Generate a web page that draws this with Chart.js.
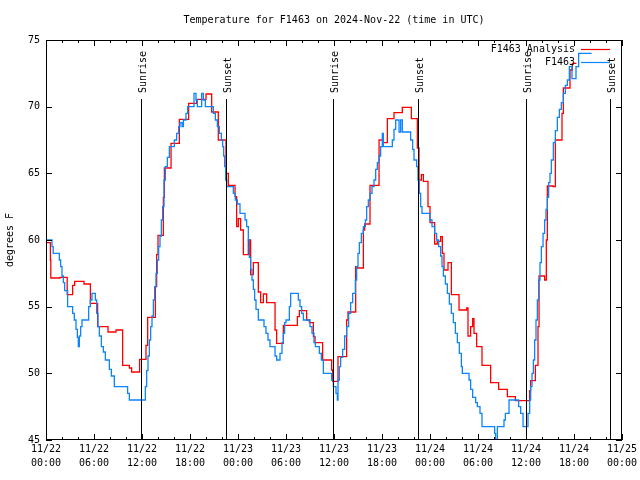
<!DOCTYPE html>
<html>
<head>
<meta charset="utf-8">
<script src="https://cdn.jsdelivr.net/npm/chart.js@4/dist/chart.umd.min.js"></script>
<style>
  html, body { margin: 0; padding: 0; background: #ffffff; }
  canvas { display: block; }
</style>
</head>
<body>
<canvas id="c" width="640" height="480"></canvas>
<script>
// ---- data (hours since 2024-11-22 00:00 UTC) ----
const chartTitle = 'Temperature for F1463 on 2024-Nov-22 (time in UTC)';
const yTitle = 'degrees F';
const seriesNames = ['F1463 Analysis', 'F1463'];

const analysisHours = [0.0,0.55,0.6,1.75,2.65,3.33,3.58,4.75,5.55,6.45,7.75,8.75,9.58,10.42,10.7,11.7,12.5,12.71,13.67,13.83,14.0,14.67,14.8,15.63,16.67,17.83,18.83,20.0,20.71,21.54,22.5,22.79,23.63,23.83,24.04,24.33,24.67,25.29,25.58,25.92,26.54,26.83,27.17,27.58,28.63,28.83,29.67,31.42,31.67,32.58,32.92,33.42,33.63,34.58,35.71,35.83,36.5,37.58,37.75,38.71,38.92,39.67,39.83,40.5,41.63,42.17,42.67,43.5,44.54,45.67,46.42,46.63,46.92,47.17,47.75,48.0,48.58,48.92,49.33,49.54,49.75,50.25,50.67,51.63,52.58,52.75,53.08,53.33,53.5,53.83,54.5,55.58,56.58,57.67,58.67,60.46,60.58,61.17,61.5,61.63,62.33,62.54,62.67,63.38,63.67,64.5,64.67,65.5,65.8,66.3];
const analysisTemps = [59.8,58.5,57.15,57.2,55.9,56.6,56.9,56.7,55.25,53.5,53.1,53.25,50.6,50.4,50.1,51.05,52.1,54.2,56.5,58.9,60.35,63.2,65.4,67.25,69.05,70.25,70.55,70.95,69.6,67.5,65.0,64.1,63.25,61.0,61.6,60.75,58.9,60.0,57.4,58.3,56.1,55.3,55.95,55.3,53.25,52.25,53.6,54.25,54.7,54.0,53.8,52.75,52.3,51.0,50.25,49.4,51.25,54.0,54.6,58.0,57.9,60.75,61.2,64.1,67.5,67.3,69.1,69.55,69.95,69.1,66.9,64.5,64.9,64.4,62.5,61.3,59.7,59.9,60.25,59.0,57.75,58.3,55.9,54.75,54.9,52.8,53.5,54.1,53.0,52.0,50.6,49.3,48.8,48.25,47.95,48.7,49.45,50.6,53.5,57.3,57.0,60.0,64.05,64.0,67.5,69.5,71.4,72.75,73.25,73.25];

const obsHours = [0.0,0.75,0.9,1.67,1.83,2.0,2.17,2.33,2.7,3.33,3.54,3.75,3.92,4.04,4.17,4.33,4.5,5.33,5.54,5.75,6.17,6.33,6.5,6.67,6.92,7.17,7.42,7.92,8.17,8.54,10.2,10.42,12.42,12.58,12.75,12.92,13.08,13.25,13.42,13.58,13.75,13.92,14.08,14.25,14.42,14.58,14.75,14.92,15.17,15.42,16.04,16.33,16.58,16.75,17.0,17.17,17.5,17.71,
18.5,18.75,18.92,19.46,19.67,19.92,20.92,21.17,21.42,21.67,21.92,22.08,22.21,22.33,22.46,22.58,23.42,23.67,23.92,24.25,24.88,25.08,25.29,25.42,25.58,25.75,25.92,26.08,26.25,26.54,27.25,27.5,27.75,28.0,28.63,28.83,29.25,29.5,29.67,29.83,30.0,30.42,30.58,31.54,31.75,31.96,32.17,33.0,33.25,33.5,33.67,34.17,34.42,34.67,35.71,35.92,
36.25,36.42,36.5,36.67,36.83,37.08,37.33,37.58,37.83,38.08,38.33,38.67,38.83,39.0,39.17,39.42,39.67,39.92,40.08,40.29,40.5,40.75,41.0,41.21,41.42,41.63,41.83,42.04,42.17,43.29,43.5,43.71,44.13,44.33,44.54,45.58,45.83,46.0,46.33,46.5,46.67,46.83,47.0,48.0,48.25,48.58,48.83,49.08,49.33,49.5,49.67,49.92,50.17,50.42,50.67,50.92,51.17,51.42,51.67,51.92,52.04,52.88,53.08,53.33,53.71,53.92,
54.25,54.5,56.08,56.2,56.42,57.25,57.42,57.88,59.08,59.33,59.63,60.25,60.46,60.58,60.75,60.92,61.08,61.25,61.42,61.58,61.75,61.92,62.13,62.33,62.5,62.67,62.83,63.0,63.17,63.42,63.67,63.92,64.17,64.42,64.67,64.92,65.17,65.42,65.75,66.25,66.58,68.2];
const obsTemps = [60.0,59.5,59.0,58.5,58.0,57.3,56.8,56.2,55.0,54.5,54.0,53.3,52.7,52.0,52.8,53.5,54.0,55.0,55.5,56.0,55.5,54.5,53.5,52.8,52.0,51.6,51.0,50.3,49.8,49.0,48.5,48.0,49.0,50.2,51.3,52.5,53.5,54.3,55.5,56.5,57.5,58.5,59.5,60.3,61.5,62.5,64.5,65.5,66.2,67.0,67.5,68.0,68.5,68.8,68.5,69.0,69.5,70.0,
71.0,70.5,70.0,71.0,70.5,70.0,69.5,69.0,68.5,68.0,67.5,67.0,66.3,65.5,64.5,64.0,63.5,63.0,62.7,62.0,61.5,61.0,60.0,58.7,57.8,57.0,56.3,55.5,54.8,54.0,53.5,53.0,52.5,52.0,51.3,51.0,51.5,52.3,53.0,53.8,54.0,55.0,56.0,55.5,55.0,54.5,54.0,53.5,53.0,52.3,52.0,51.5,51.0,50.0,49.5,49.0,
48.5,48.0,49.5,50.5,51.2,51.8,52.8,53.5,54.5,55.3,56.0,57.0,58.0,59.0,59.8,60.5,61.0,61.5,62.5,63.0,63.5,64.0,64.5,65.3,65.8,66.3,67.0,68.0,67.0,67.5,68.3,69.0,68.1,69.0,68.1,67.5,66.8,66.0,65.5,64.5,63.5,62.5,62.0,61.5,61.0,60.5,60.0,59.5,58.8,58.0,57.3,56.7,56.0,55.2,54.5,53.8,53.0,52.3,51.5,50.5,50.0,49.5,48.8,48.2,47.8,47.5,
47.0,46.0,45.5,45.0,46.0,46.5,47.0,48.0,47.5,47.0,46.0,47.0,48.0,49.0,50.0,51.0,52.5,54.0,55.5,57.0,58.3,59.5,60.5,61.5,62.3,63.2,64.3,65.0,66.0,67.3,68.2,69.2,69.8,70.3,71.0,71.6,72.0,73.0,72.1,73.0,74.0,74.0];

const sunriseHours = [11.92, 35.93, 59.95];
const sunsetHours = [22.48, 46.45, 70.45];

const xTickHours = [0,6,12,18,24,30,36,42,48,54,60,66,72];
const xTickDates = ['11/22','11/22','11/22','11/22','11/23','11/23','11/23','11/23','11/24','11/24','11/24','11/24','11/25'];
const xTickTimes = ['00:00','06:00','12:00','18:00','00:00','06:00','12:00','18:00','00:00','06:00','12:00','18:00','00:00'];
const yTicks = [45,50,55,60,65,70,75];

// ---- chart ----
const FONT = '"DejaVu Sans Mono", "Liberation Mono", monospace';
const RED = '#ff0000';
const BLUE = '#0a84ff';

const toPts = (hs, vs) => hs.map((h, i) => ({x: h, y: vs[i]}));

const gnuplotPlugin = {
  id: 'gnuplotDecor',
  afterDatasetsDraw(chart) {
    const ctx = chart.ctx;
    const xs = chart.scales.x, ys = chart.scales.y;
    const a = chart.chartArea;
    ctx.save();
    ctx.strokeStyle = '#000';
    ctx.fillStyle = '#000';
    ctx.lineWidth = 1;

    // sunrise / sunset lines and labels
    ctx.font = '10px ' + FONT;
    const drawSun = (h, txt) => {
      const px = Math.round(xs.getPixelForValue(h)) + 0.5;
      ctx.beginPath();
      ctx.moveTo(px, a.top + 59);
      ctx.lineTo(px, a.bottom);
      ctx.stroke();
      ctx.save();
      ctx.translate(px + 1.5, a.top + 53);
      ctx.rotate(-Math.PI / 2);
      ctx.textAlign = 'left';
      ctx.textBaseline = 'middle';
      ctx.fillText(txt, 0, 0);
      ctx.restore();
    };
    sunriseHours.forEach(h => drawSun(h, 'Sunrise'));
    sunsetHours.forEach(h => drawSun(h, 'Sunset'));

    // border
    ctx.strokeRect(a.left + 0.5, a.top + 0.5, a.right - a.left - 1, a.bottom - a.top - 1);

    // y ticks (inward, mirrored)
    ctx.beginPath();
    yTicks.forEach(v => {
      const py = Math.round(ys.getPixelForValue(v)) + 0.5;
      ctx.moveTo(a.left, py); ctx.lineTo(a.left + 6, py);
      ctx.moveTo(a.right, py); ctx.lineTo(a.right - 6, py);
    });
    // x ticks: major every 6 h, minor every 2 h
    for (let h = 0; h <= 72; h += 2) {
      const px = Math.round(xs.getPixelForValue(h)) + 0.5;
      const len = (h % 6 === 0) ? 6 : 3;
      ctx.moveTo(px, a.bottom); ctx.lineTo(px, a.bottom - len);
      ctx.moveTo(px, a.top); ctx.lineTo(px, a.top + len);
    }
    ctx.stroke();

    // legend
    ctx.font = '10px ' + FONT;
    ctx.textAlign = 'right';
    ctx.textBaseline = 'middle';
    const colors = [RED, BLUE];
    seriesNames.forEach((n, i) => {
      const y = a.top + 9 + i * 13;
      ctx.fillStyle = '#000';
      ctx.fillText(n, a.right - 47, y);
      ctx.strokeStyle = colors[i];
      ctx.lineWidth = 1.2;
      ctx.beginPath();
      ctx.moveTo(a.right - 41, y + 0.5);
      ctx.lineTo(a.right - 12, y + 0.5);
      ctx.stroke();
    });

    // title
    ctx.fillStyle = '#000';
    ctx.textAlign = 'center';
    ctx.textBaseline = 'middle';
    ctx.fillText(chartTitle, (a.left + a.right) / 2, 20);

    // y axis title
    ctx.save();
    ctx.translate(10, (a.top + a.bottom) / 2);
    ctx.rotate(-Math.PI / 2);
    ctx.textAlign = 'center';
    ctx.textBaseline = 'middle';
    ctx.fillText(yTitle, 0, 0);
    ctx.restore();

    ctx.restore();
  }
};

new Chart(document.getElementById('c').getContext('2d'), {
  type: 'line',
  data: {
    datasets: [
      { label: seriesNames[0], data: toPts(analysisHours, analysisTemps), borderColor: RED, backgroundColor: RED,
        borderWidth: 1.3, pointRadius: 0, stepped: true, fill: false, order: 2 },
      { label: seriesNames[1], data: toPts(obsHours, obsTemps), borderColor: BLUE, backgroundColor: BLUE,
        borderWidth: 1.3, pointRadius: 0, stepped: true, fill: false, order: 1 }
    ]
  },
  options: {
    responsive: false,
    animation: false,
    events: [],
    layout: { padding: { top: 40, right: 18, left: 0, bottom: 0 } },
    plugins: { legend: { display: false }, title: { display: false }, tooltip: { enabled: false } },
    scales: {
      x: {
        type: 'linear', min: 0, max: 72,
        afterBuildTicks: s => { s.ticks = xTickHours.map(v => ({ value: v })); },
        afterFit: s => { s.height = 40; },
        ticks: {
          autoSkip: false, maxRotation: 0, minRotation: 0, padding: 2, color: '#000',
          font: { family: FONT, size: 10, lineHeight: 1.45 },
          callback: (v) => { const i = xTickHours.indexOf(v); return i < 0 ? '' : [xTickDates[i], xTickTimes[i]]; }
        },
        grid: { display: false, drawTicks: false, tickLength: 0 }, border: { display: false }
      },
      y: {
        min: 45, max: 75,
        afterBuildTicks: s => { s.ticks = yTicks.map(v => ({ value: v })); },
        afterFit: s => { s.width = 46; },
        ticks: { padding: 6, color: '#000', font: { family: FONT, size: 10 } },
        grid: { display: false, drawTicks: false, tickLength: 0 }, border: { display: false }
      }
    }
  },
  plugins: [gnuplotPlugin]
});
</script>
</body>
</html>
